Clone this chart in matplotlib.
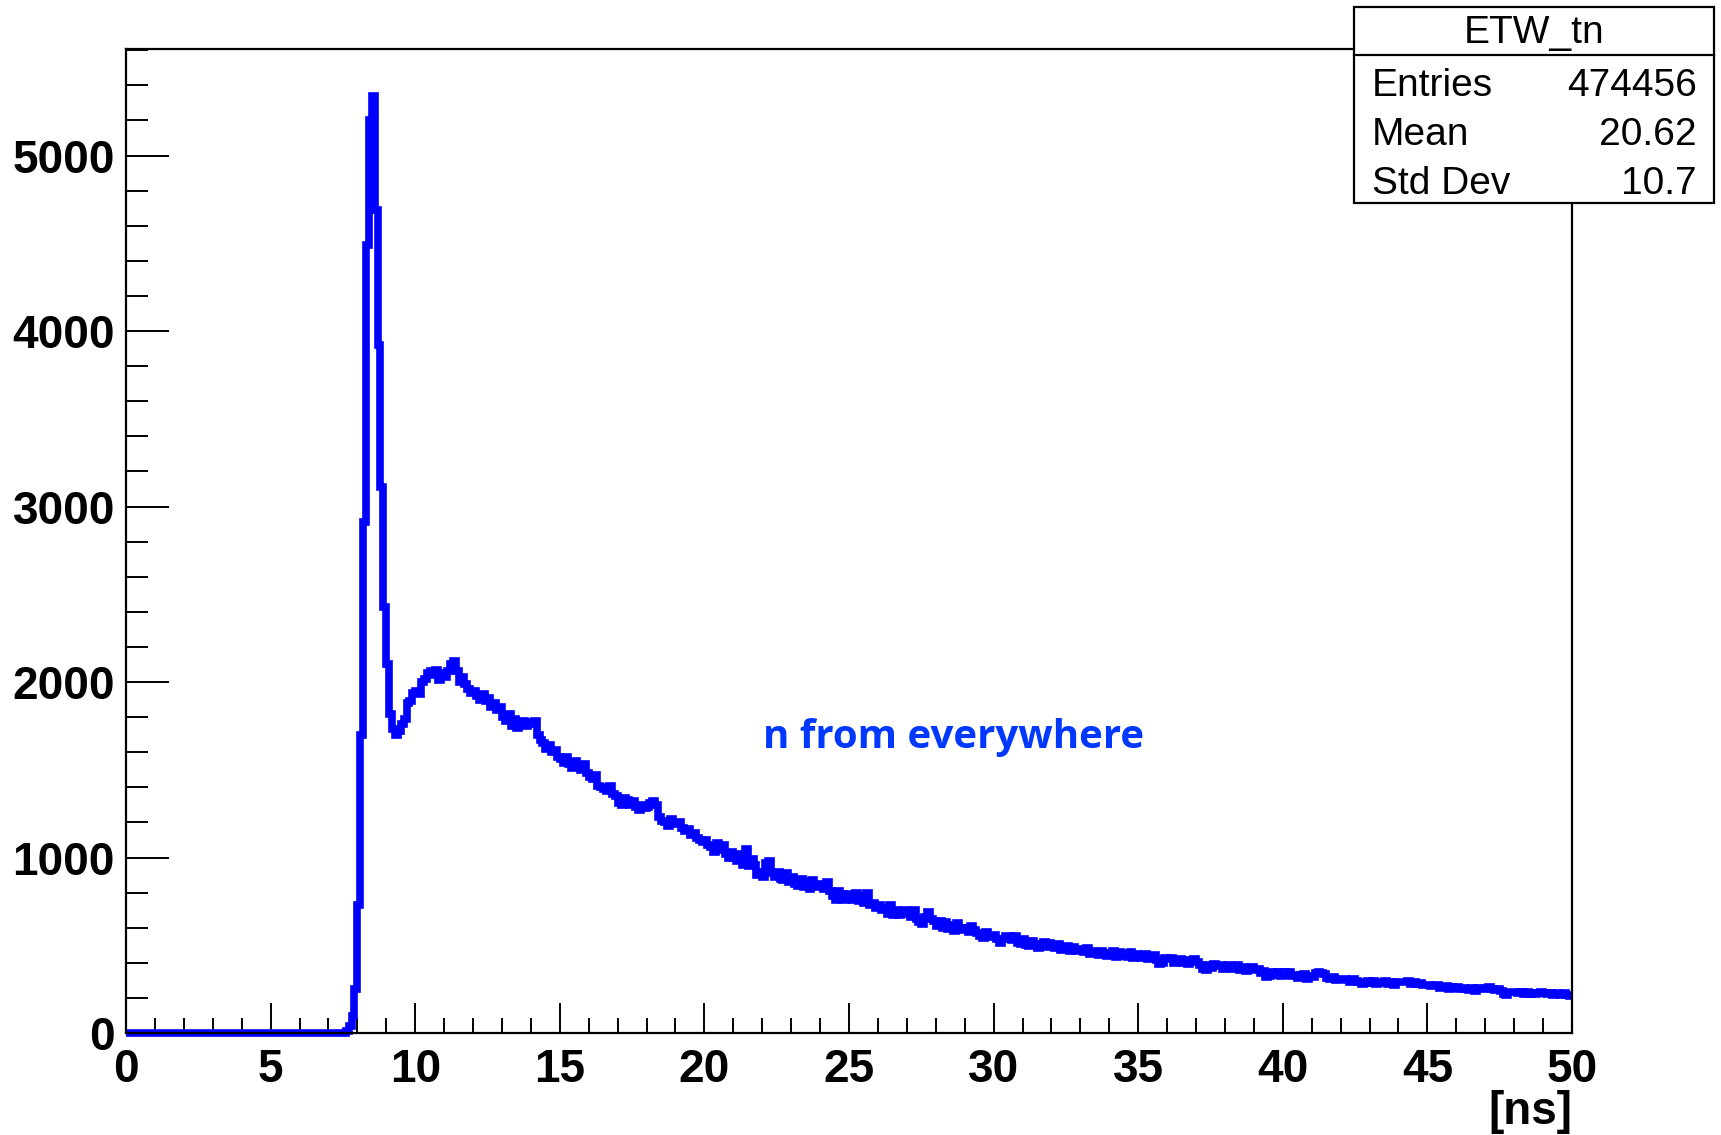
import numpy as np
import matplotlib.pyplot as plt
from matplotlib.ticker import MultipleLocator
from matplotlib.patches import Rectangle
from matplotlib.lines import Line2D

# ETW_tn time spectrum, 0.1 ns bins from 0 to 50 ns (one row = 1 ns)
x_min, x_max = 0.0, 50.0
rows = [
    [0, 0, 0, 0, 0, 0, 0, 0, 0, 0],                                  # 0
    [0, 0, 0, 0, 0, 0, 0, 0, 0, 0],                                  # 1
    [0, 0, 0, 0, 0, 0, 0, 0, 0, 0],                                  # 2
    [0, 0, 0, 0, 0, 0, 0, 0, 0, 0],                                  # 3
    [0, 0, 0, 0, 0, 0, 0, 0, 0, 0],                                  # 4
    [0, 0, 0, 0, 0, 0, 0, 0, 0, 0],                                  # 5
    [0, 0, 0, 0, 0, 0, 0, 0, 0, 0],                                  # 6
    [0, 0, 0, 0, 0, 0, 10, 40, 95, 250],                             # 7
    [730, 1700, 2910, 4490, 5200, 5340, 4690, 3920, 3110, 2430],     # 8
    [2100, 1820, 1730, 1700, 1720, 1760, 1790, 1880, 1890, 1940],    # 9
    [1950, 1930, 2000, 2020, 2050, 2060, 2040, 2070, 2010, 2050],    # 10
    [2030, 2060, 2100, 2120, 2060, 2000, 2030, 1990, 1960, 1940],    # 11
    [1950, 1920, 1900, 1930, 1890, 1910, 1860, 1880, 1840, 1860],    # 12
    [1800, 1780, 1820, 1750, 1790, 1740, 1770, 1780, 1750, 1770],    # 13
    [1760, 1780, 1700, 1670, 1650, 1620, 1640, 1600, 1610, 1570],    # 14
    [1560, 1540, 1570, 1530, 1510, 1550, 1520, 1500, 1530, 1480],    # 15
    [1460, 1450, 1470, 1410, 1400, 1390, 1380, 1410, 1360, 1350],    # 16
    [1310, 1300, 1340, 1330, 1300, 1320, 1290, 1270, 1300, 1280],    # 17
    [1290, 1310, 1320, 1300, 1230, 1210, 1200, 1180, 1220, 1190],    # 18
    [1190, 1200, 1170, 1150, 1160, 1130, 1140, 1110, 1100, 1090],    # 19
    [1100, 1070, 1060, 1030, 1080, 1040, 1070, 1020, 1000, 1030],    # 20
    [1000, 980, 1020, 960, 1050, 950, 990, 960, 900, 920],           # 21
    [890, 970, 980, 910, 890, 920, 880, 870, 910, 860],              # 22
    [890, 850, 840, 880, 830, 860, 820, 870, 830, 850],              # 23
    [850, 820, 860, 810, 780, 760, 810, 790, 760, 790],              # 24
    [780, 760, 800, 750, 780, 740, 800, 730, 740, 710],              # 25
    [730, 700, 710, 680, 730, 670, 700, 670, 680, 700],              # 26
    [690, 660, 700, 650, 630, 620, 660, 690, 650, 640],              # 27
    [610, 640, 600, 630, 590, 615, 580, 625, 600, 585],              # 28
    [600, 575, 610, 585, 570, 555, 540, 575, 555, 545],              # 29
    [560, 535, 510, 535, 550, 555, 530, 550, 515, 505],              # 30
    [535, 500, 495, 525, 505, 485, 505, 520, 490, 510],              # 31
    [500, 485, 505, 475, 490, 495, 470, 490, 465, 480],              # 32
    [475, 460, 485, 450, 470, 455, 445, 470, 450, 440],              # 33
    [455, 465, 435, 460, 440, 455, 435, 460, 430, 450],              # 34
    [445, 430, 450, 420, 435, 445, 415, 395, 400, 425],              # 35
    [420, 425, 400, 415, 420, 400, 415, 395, 410, 420],              # 36
    [405, 390, 365, 360, 385, 370, 395, 380, 385, 365],              # 37
    [382, 390, 365, 380, 385, 360, 375, 355, 370, 375],              # 38
    [360, 365, 340, 355, 320, 325, 345, 330, 350, 325],              # 39
    [345, 330, 350, 325, 330, 315, 330, 335, 310, 325],              # 40
    [320, 340, 350, 340, 335, 315, 305, 320, 300, 305],              # 41
    [310, 305, 300, 290, 310, 295, 290, 280, 285, 295],              # 42
    [285, 295, 280, 285, 290, 298, 280, 292, 275, 288],              # 43
    [292, 288, 290, 297, 282, 292, 278, 285, 272, 275],              # 44
    [275, 265, 268, 272, 258, 262, 268, 250, 262, 258],              # 45
    [260, 250, 254, 250, 246, 255, 242, 255, 252, 248],              # 46
    [258, 262, 250, 246, 252, 242, 222, 218, 232, 236],              # 47
    [232, 226, 234, 224, 232, 222, 230, 220, 228, 232],              # 48
    [228, 222, 230, 218, 226, 220, 216, 226, 218, 212],              # 49
]
counts = np.array(rows, dtype=float).ravel()
edges = np.linspace(x_min, x_max, len(counts) + 1)

hist_name = "ETW_tn"
stat_labels = ["Entries", "Mean", "Std Dev"]
stat_values = ["474456", "20.62", "10.7"]
x_ticks = np.arange(0, 51, 5)
y_ticks = np.arange(0, 5001, 1000)

plt.rcParams['font.family'] = ['Liberation Sans', 'DejaVu Sans']

W, H = 1721, 1135
fig = plt.figure(figsize=(W / 100, H / 100), dpi=100)
ax = fig.add_axes([126 / W, 1 - 1033 / H, (1572 - 126) / W, (1033 - 49) / H])

ax.stairs(counts, edges, baseline=None, color='#0000ff', linewidth=5.5,
          joinstyle='miter', clip_on=False, zorder=2)

ax.set_xlim(x_min, x_max)
ax.set_ylim(0, counts.max() * 1.05)

ax.set_xticks(x_ticks)
ax.set_yticks(y_ticks)
ax.xaxis.set_minor_locator(MultipleLocator(1))
ax.yaxis.set_minor_locator(MultipleLocator(200))
ax.tick_params(axis='x', which='major', direction='in', length=21.5, width=1.4,
               labelsize=33, pad=11)
ax.tick_params(axis='x', which='minor', direction='in', length=10.8, width=1.4)
ax.tick_params(axis='y', which='major', direction='in', length=31, width=1.4,
               labelsize=33, pad=8)
ax.tick_params(axis='y', which='minor', direction='in', length=15.5, width=1.4)
for lab in ax.get_xticklabels() + ax.get_yticklabels():
    lab.set_fontweight('bold')
for sp in ax.spines.values():
    sp.set_linewidth(1.6)
    sp.set_zorder(3)

ax.text(1.0, -0.08, "[ns]", transform=ax.transAxes, ha='right', va='center',
        fontsize=33, fontweight='bold')

ax.text(28.6, 1685, "n from everywhere", color='#0038ff', fontsize=29,
        fontweight='bold', family=['Open Sans', 'DejaVu Sans'],
        ha='center', va='center')

# statistics box, upper right
bx0, bx1 = 1354 / W, 1714 / W
by0, by1 = 1 - 203 / H, 1 - 7 / H
fig.add_artist(Rectangle((bx0, by0), bx1 - bx0, by1 - by0, transform=fig.transFigure,
                         facecolor='white', edgecolor='black', linewidth=1.6, zorder=10))
sep_y = 1 - 55 / H
fig.add_artist(Line2D([bx0, bx1], [sep_y, sep_y], transform=fig.transFigure,
                      color='black', linewidth=1.6, zorder=11))
fig.text((bx0 + bx1) / 2, 1 - 33 / H, hist_name, ha='center', va='center',
         fontsize=28, zorder=12)
row_y = [86, 135, 184]
for lab, val, yy in zip(stat_labels, stat_values, row_y):
    fig.text(1372 / W, 1 - yy / H, lab, ha='left', va='center', fontsize=28, zorder=12)
    fig.text(1697 / W, 1 - yy / H, val, ha='right', va='center', fontsize=28, zorder=12)

fig.savefig("out.png", dpi=100)
